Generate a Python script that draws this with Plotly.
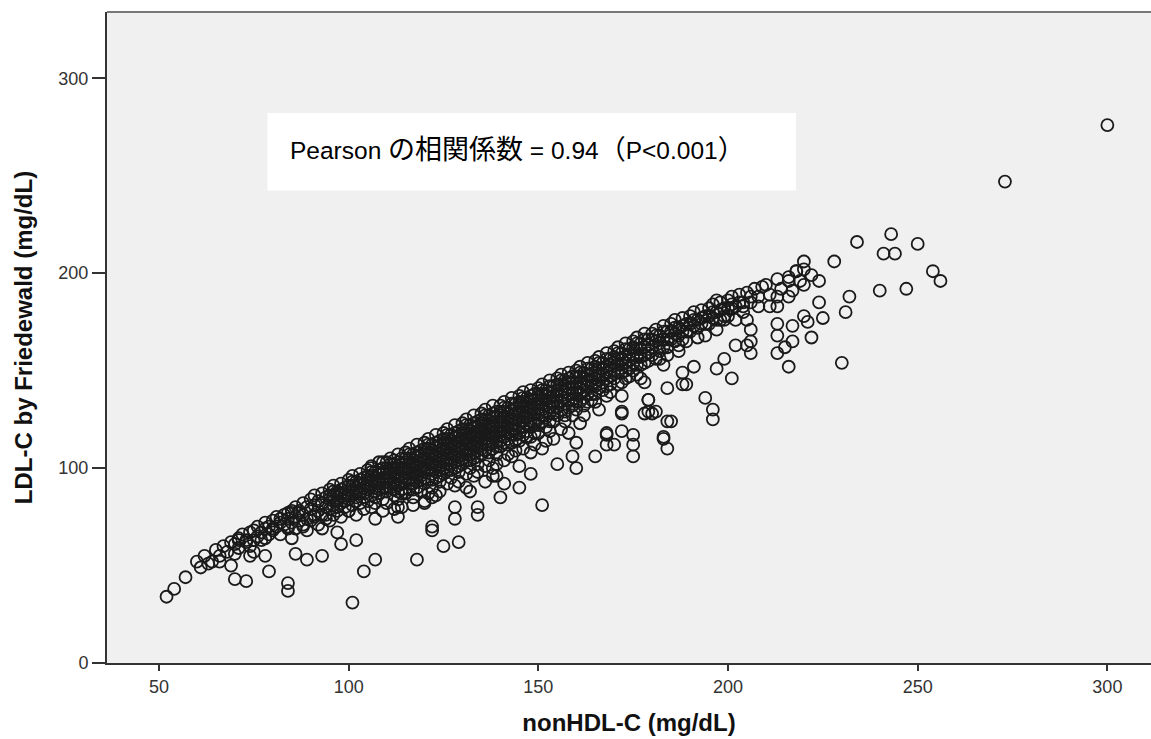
import plotly.graph_objects as go

# ---- dense band (nonHDL-C, LDL-C), grouped by x bins ----
nonhdl_band = [
    60, 61, 62, 63,
    65, 66, 67, 68, 69,
    70, 71, 71, 72, 73, 74, 74,
    75, 75, 76, 76, 77, 78, 78, 79, 79,
    80, 80, 81, 81, 82, 82, 83, 83, 84, 84, 84,
    85, 85, 86, 86, 86, 87, 87, 88, 88, 88, 89, 89, 89,
    90, 90, 90, 91, 91, 91, 92, 92, 92, 93, 93, 93, 94, 94, 94,
    95, 95, 95, 95, 96, 96, 96, 96, 97, 97, 97, 98, 98, 98, 98, 99, 99, 99,
    100, 100, 100, 100, 101, 101, 101, 101, 102, 102, 102, 102, 103, 103, 103, 103, 104, 104, 104, 104,
    105, 105, 105, 105, 106, 106, 106, 106, 106, 107, 107, 107, 107, 108, 108, 108, 108, 109, 109, 109, 109, 109,
    110, 110, 110, 110, 110, 111, 111, 111, 111, 112, 112, 112, 112, 113, 113, 113, 113, 113, 114, 114, 114, 114, 114, 112,
    115, 115, 115, 115, 115, 116, 116, 116, 116, 116, 117, 117, 117, 117, 117, 118, 118, 118, 118, 118, 119, 119, 119, 119, 119, 117,
    120, 120, 120, 120, 120, 121, 121, 121, 121, 121, 122, 122, 122, 122, 122, 123, 123, 123, 123, 123, 124, 124, 124, 124, 124, 121, 123, 124,
    125, 125, 125, 125, 125, 126, 126, 126, 126, 126, 127, 127, 127, 127, 127, 128, 128, 128, 128, 128, 129, 129, 129, 129, 129, 126, 128, 129,
    130, 130, 130, 130, 130, 131, 131, 131, 131, 131, 132, 132, 132, 132, 132, 133, 133, 133, 133, 133, 134, 134, 134, 134, 134, 131, 133, 134,
    135, 135, 135, 135, 135, 136, 136, 136, 136, 136, 137, 137, 137, 137, 137, 138, 138, 138, 138, 138, 139, 139, 139, 139, 139, 136, 138, 139,
    140, 140, 140, 140, 140, 141, 141, 141, 141, 141, 142, 142, 142, 142, 143, 143, 143, 143, 143, 144, 144, 144, 144, 144, 142, 141,
    145, 145, 145, 145, 145, 146, 146, 146, 146, 146, 147, 147, 147, 147, 148, 148, 148, 148, 148, 149, 149, 149, 149, 149, 146, 148,
    150, 150, 150, 150, 150, 151, 151, 151, 151, 152, 152, 152, 152, 153, 153, 153, 153, 153, 154, 154, 154, 154, 152, 154,
    155, 155, 155, 155, 156, 156, 156, 156, 157, 157, 157, 157, 158, 158, 158, 158, 159, 159, 159, 159, 156, 158,
    160, 160, 160, 160, 161, 161, 161, 161, 162, 162, 162, 162, 163, 163, 163, 163, 164, 164, 164, 161,
    165, 165, 165, 165, 166, 166, 166, 167, 167, 167, 168, 168, 168, 168, 169, 169, 169, 166,
    170, 170, 170, 171, 171, 171, 172, 172, 172, 173, 173, 173, 174, 174, 174, 172,
    175, 175, 175, 176, 176, 176, 177, 177, 178, 178, 178, 179, 179, 177,
    180, 180, 181, 181, 181, 182, 182, 183, 183, 184, 184, 183,
    185, 185, 186, 186, 187, 187, 188, 188, 189, 189,
    190, 190, 191, 191, 192, 192, 193, 193, 194,
    195, 195, 196, 196, 197, 198, 198, 199,
    200, 200, 201, 202, 203, 204,
    205, 206, 207, 208, 209,
    210, 211, 213, 214,
    216, 218, 219,
]
ldl_band = [
    52, 49, 55, 51,
    58, 55, 60, 57, 62,
    61, 64, 59, 66, 62, 67, 60,
    68, 63, 70, 65, 67, 72, 64, 70, 66,
    73, 68, 75, 70, 72, 66, 76, 71, 74, 69, 77,
    78, 72, 80, 75, 69, 78, 73, 82, 76, 71, 80, 74, 68,
    84, 79, 73, 86, 81, 76, 83, 78, 71, 87, 82, 76, 85, 80, 74,
    89, 84, 79, 73, 91, 86, 81, 76, 88, 83, 78, 92, 87, 82, 75, 90, 85, 80,
    94, 89, 84, 78, 96, 91, 86, 81, 93, 88, 83, 76, 97, 92, 87, 82, 95, 90, 85, 79,
    99, 94, 89, 83, 101, 96, 91, 86, 80, 98, 93, 88, 82, 103, 97, 92, 87, 100, 95, 90, 84, 78,
    103, 98, 93, 88, 82, 105, 100, 95, 90, 102, 97, 92, 86, 107, 101, 96, 91, 84, 105, 100, 95, 89, 80, 79,
    108, 103, 98, 93, 87, 110, 105, 100, 95, 89, 107, 102, 97, 92, 85, 112, 106, 101, 96, 90, 109, 104, 99, 94, 88, 81,
    113, 108, 103, 98, 92, 115, 110, 105, 100, 94, 112, 107, 102, 97, 90, 117, 111, 106, 101, 95, 114, 109, 104, 99, 93, 87, 86, 88,
    118, 113, 108, 103, 97, 120, 115, 110, 105, 99, 117, 112, 107, 102, 95, 122, 116, 111, 106, 100, 119, 114, 109, 104, 98, 92, 91, 93,
    123, 118, 113, 108, 102, 125, 120, 115, 110, 104, 122, 117, 112, 107, 100, 127, 121, 116, 111, 105, 124, 119, 114, 109, 102, 97, 96, 98,
    128, 123, 118, 113, 107, 130, 125, 120, 115, 109, 127, 122, 117, 112, 104, 132, 126, 121, 116, 110, 129, 124, 119, 114, 107, 101, 100, 102,
    132, 127, 122, 117, 111, 134, 129, 124, 119, 113, 131, 126, 121, 115, 136, 130, 125, 120, 113, 133, 128, 123, 117, 109, 107, 104,
    137, 132, 127, 121, 114, 139, 134, 129, 124, 117, 136, 131, 126, 119, 140, 135, 130, 124, 116, 138, 133, 128, 122, 112, 110, 108,
    141, 136, 131, 125, 118, 143, 138, 133, 127, 140, 135, 129, 121, 145, 139, 134, 128, 119, 142, 137, 131, 124, 114, 115,
    146, 140, 134, 127, 148, 143, 137, 130, 145, 139, 133, 124, 149, 144, 138, 131, 147, 141, 135, 127, 120, 118,
    150, 144, 138, 130, 152, 147, 141, 134, 149, 143, 136, 127, 154, 148, 142, 134, 151, 145, 138, 123,
    155, 149, 142, 134, 157, 151, 145, 154, 148, 140, 159, 152, 146, 137, 156, 150, 143, 130,
    160, 154, 146, 162, 156, 149, 159, 153, 144, 164, 157, 150, 161, 155, 147, 137,
    165, 158, 150, 167, 161, 153, 164, 157, 169, 162, 154, 166, 159, 146,
    169, 162, 171, 165, 156, 168, 160, 173, 166, 170, 162, 153,
    174, 166, 176, 169, 172, 163, 177, 170, 174, 165,
    178, 170, 180, 173, 176, 167, 181, 174, 178,
    182, 174, 184, 177, 180, 185, 176, 182,
    186, 178, 188, 183, 189, 185,
    190, 185, 192, 188, 193,
    194, 189, 197, 192,
    198, 201, 196,
]

# ---- more points inside the dense core of the band ----
nonhdl_core = [
    95, 96, 97, 97, 98, 99, 99, 96,
    100, 100, 101, 101, 102, 102, 103, 103, 104, 104,
    105, 105, 106, 106, 107, 107, 107, 108, 108, 108, 109, 109,
    110, 110, 110, 111, 111, 111, 112, 112, 112, 112, 113, 113, 114, 114, 114, 113,
    115, 115, 115, 116, 116, 116, 116, 117, 117, 117, 117, 118, 118, 118, 119, 119, 119, 118,
    120, 120, 120, 120, 121, 121, 121, 122, 122, 122, 122, 123, 123, 123, 123, 124, 124, 124, 124,
    125, 125, 125, 125, 126, 126, 126, 126, 127, 127, 127, 127, 128, 128, 128, 128, 129, 129, 129, 129,
    130, 130, 130, 130, 131, 131, 131, 131, 132, 132, 132, 132, 133, 133, 133, 133, 134, 134, 134, 134,
    135, 135, 135, 135, 136, 136, 136, 136, 137, 137, 137, 137, 138, 138, 138, 138, 139, 139, 139, 139,
    140, 140, 140, 140, 141, 141, 141, 141, 142, 142, 142, 142, 143, 143, 143, 143, 144, 144, 144, 144,
    145, 145, 145, 145, 146, 146, 146, 146, 147, 147, 147, 147, 148, 148, 148, 148, 149, 149, 149, 149,
    150, 150, 150, 150, 151, 151, 151, 151, 152, 152, 152, 153, 153, 153, 153, 154, 154, 154,
    155, 155, 155, 156, 156, 156, 157, 157, 157, 158, 158, 158, 159, 159, 159, 157,
    160, 160, 160, 161, 161, 161, 162, 162, 162, 163, 163, 163, 164, 164, 164,
    165, 165, 165, 166, 166, 166, 167, 167, 168, 168, 168, 169, 169, 169,
    170, 170, 171, 171, 172, 172, 173, 173, 173, 174, 174, 171,
    175, 175, 176, 176, 177, 177, 178, 178, 179, 179, 176,
    180, 180, 181, 182, 182, 183, 183, 184, 184,
    185, 186, 186, 187, 188, 188, 189, 187,
    190, 191, 192, 193, 194, 194,
    195, 196, 197, 198, 199, 197,
    200, 201, 203, 204,
]
ldl_core = [
    86, 88, 80, 85, 89, 83, 87, 83,
    91, 86, 88, 93, 85, 90, 89, 94, 87, 92,
    96, 91, 98, 93, 95, 90, 85, 99, 94, 89, 97, 92,
    100, 95, 90, 102, 97, 92, 104, 99, 94, 89, 103, 98, 102, 97, 92, 88,
    105, 100, 95, 107, 102, 97, 92, 104, 99, 94, 89, 108, 103, 98, 106, 101, 96, 93,
    110, 105, 100, 95, 112, 107, 102, 109, 104, 99, 94, 113, 108, 103, 98, 111, 106, 101, 96,
    115, 110, 105, 100, 117, 112, 107, 102, 114, 109, 104, 99, 118, 113, 108, 103, 116, 111, 106, 101,
    120, 115, 110, 105, 122, 117, 112, 107, 119, 114, 109, 104, 123, 118, 113, 108, 121, 116, 111, 106,
    125, 120, 115, 110, 127, 122, 117, 112, 124, 119, 114, 108, 128, 123, 118, 113, 126, 121, 116, 111,
    129, 124, 119, 114, 131, 126, 121, 116, 128, 123, 118, 112, 133, 127, 122, 117, 130, 125, 120, 114,
    134, 129, 124, 118, 136, 131, 126, 121, 133, 128, 123, 116, 137, 132, 127, 121, 135, 130, 125, 118,
    138, 133, 128, 122, 140, 135, 130, 124, 137, 132, 126, 142, 136, 131, 124, 139, 134, 128,
    143, 137, 131, 145, 140, 134, 142, 136, 129, 146, 141, 135, 144, 138, 132, 127,
    147, 141, 134, 149, 144, 138, 146, 140, 132, 151, 145, 138, 148, 142, 135,
    152, 146, 138, 154, 148, 141, 151, 144, 156, 149, 142, 153, 147, 139,
    157, 150, 159, 153, 156, 149, 161, 154, 146, 158, 151, 143,
    162, 154, 164, 157, 161, 153, 166, 158, 163, 155, 148,
    166, 158, 168, 164, 156, 170, 162, 166, 158,
    170, 172, 165, 168, 173, 166, 170, 160,
    174, 176, 172, 177, 174, 168,
    178, 180, 176, 181, 178, 171,
    182, 184, 185, 180,
]

# ---- scattered points below the band, low end ----
nonhdl_low = [52, 54, 57, 64, 66, 69, 70, 70, 73, 74, 75, 71, 73, 77, 78, 79, 78, 80, 82, 85,
              87, 84, 88, 91, 93, 94, 85, 84, 84, 86, 89, 93, 97, 98, 102, 101, 104, 107, 107, 113,
              113, 118, 122, 125, 109, 115, 120, 122]
ldl_low = [34, 38, 44, 52, 52, 50, 56, 43, 42, 55, 57, 63, 63, 63, 55, 47, 69, 69, 74, 77,
           77, 70, 70, 75, 69, 76, 64, 41, 37, 56, 53, 55, 67, 61, 63, 31, 47, 53, 74, 75,
           80, 53, 68, 60, 103, 87, 83, 85]

# ---- scattered points, middle ----
nonhdl_mid = [151, 140, 145, 141, 148, 138, 136, 132, 131, 128, 134, 134, 128, 122, 120, 114, 155, 160, 159, 165,
              175, 170, 175, 168, 183, 184, 184, 179, 188, 178, 180, 172, 168, 160, 151, 145, 143, 139, 106, 100,
              97, 129]
ldl_mid = [81, 85, 90, 92, 97, 96, 93, 88, 90, 80, 80, 76, 74, 70, 82, 87, 102, 100, 106, 106,
           106, 112, 112, 112, 115, 110, 124, 135, 143, 128, 128, 128, 117, 113, 110, 101, 106, 96, 100, 78,
           87, 62]

# ---- scattered points, high end ----
nonhdl_high = [300, 273, 234, 243, 241, 244, 250, 254, 256, 240, 247, 228, 220, 220, 218, 222, 220, 224, 216, 217,
               216, 232, 231, 224, 225, 222, 230, 216, 213, 213, 213, 213, 215, 217, 217, 220, 221, 206, 208, 211,
               213, 206, 206, 206, 201, 197, 197, 204, 201, 199, 202, 205, 202, 205, 199, 194, 196, 196, 189, 185,
               183, 179, 181, 179, 172, 172, 175, 168, 191, 188, 184, 178]
ldl_high = [276, 247, 216, 220, 210, 210, 215, 201, 196, 191, 192, 206, 206, 202, 201, 199, 194, 196, 196, 191,
            188, 188, 180, 185, 177, 167, 154, 152, 188, 174, 168, 159, 162, 165, 173, 178, 175, 188, 183, 183,
            183, 171, 165, 159, 146, 151, 186, 183, 182, 176, 176, 176, 163, 163, 156, 136, 130, 125, 143, 124,
            116, 135, 129, 129, 129, 119, 117, 118, 152, 149, 141, 144]

x_ticks = [50, 100, 150, 200, 250, 300]
y_ticks = [0, 100, 200, 300]
x_title = "nonHDL-C (mg/dL)"
y_title = "LDL-C by Friedewald (mg/dL)"
CJK = '<span style="font-family:\'Noto Sans CJK JP\';font-size:27px">'
note_text = ("Pearson " + CJK + "の相関係数</span> = 0.94" + CJK + "（</span>P&lt;0.001" + CJK + "）</span>")

xs = nonhdl_band + nonhdl_core + nonhdl_low + nonhdl_mid + nonhdl_high
ys = ldl_band + ldl_core + ldl_low + ldl_mid + ldl_high

FONT = "Liberation Sans, Arial, Noto Sans CJK JP, sans-serif"

fig = go.Figure()
fig.add_trace(go.Scatter(
    x=xs, y=ys, mode="markers",
    marker=dict(symbol="circle-open", size=12, color="#1a1a1a", line=dict(width=1.8, color="#1a1a1a")),
    showlegend=False, hoverinfo="skip",
))

# white box behind the correlation note
fig.add_shape(type="rect", xref="x", yref="y", x0=78.6, x1=217.9, y0=242.4, y1=282.2,
              fillcolor="white", line=dict(width=0), layer="below")
fig.add_annotation(x=84.1, y=264.5, xref="x", yref="y", text=note_text, showarrow=False,
                   xanchor="left", yanchor="middle",
                   font=dict(family=FONT, size=24.5, color="black"))
# top frame line
fig.add_shape(type="line", xref="paper", yref="paper", x0=0, x1=1, y0=1, y1=1,
              line=dict(color="#777777", width=2))

fig.update_layout(
    width=1151, height=739,
    margin=dict(l=107, r=0, t=12, b=76),
    paper_bgcolor="white", plot_bgcolor="#f0f0f0",
    font=dict(family=FONT, color="#333333"),
)
fig.update_xaxes(
    range=[36.3, 311.5], tickvals=x_ticks, ticktext=[str(v) for v in x_ticks],
    ticks="outside", ticklen=6, tickwidth=2, tickcolor="#333333",
    showline=True, linecolor="#333333", linewidth=2,
    showgrid=False, zeroline=False,
    tickfont=dict(family=FONT, size=18, color="#333333"),
    title=dict(text="<b>" + x_title + "</b>", font=dict(family=FONT, size=24, color="#111111"), standoff=19),
    automargin=False,
)
fig.update_yaxes(
    range=[0, 334], tickvals=y_ticks, ticktext=[str(v) for v in y_ticks],
    ticks="outside", ticklen=13, tickwidth=2, tickcolor="#333333",
    showline=True, linecolor="#333333", linewidth=2,
    showgrid=False, zeroline=False,
    tickfont=dict(family=FONT, size=18, color="#333333"),
    title=dict(text="<b>" + y_title + "</b>", font=dict(family=FONT, size=24, color="#111111"), standoff=19),
    automargin=False,
)

# remove the page's default 8px body margin so the figure fills the window exactly
fig.write_html("out.html",
               config={"displayModeBar": False},
               post_script="document.body.style.margin='0';document.body.style.overflow='hidden';")
